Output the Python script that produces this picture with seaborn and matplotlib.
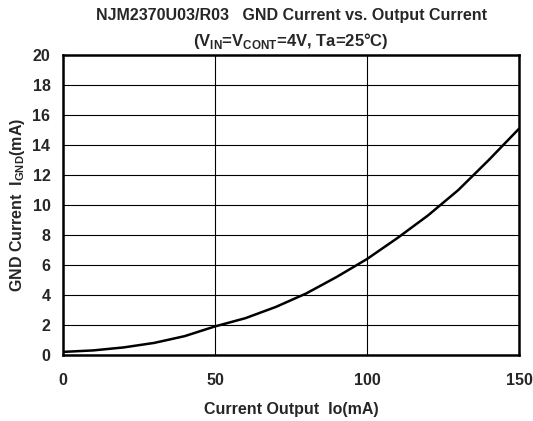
import numpy as np
import pandas as pd
import matplotlib
matplotlib.use('Agg')
import matplotlib.pyplot as plt
import seaborn as sns

# Values
output_current = [0, 10, 20, 30, 40, 50, 60, 70, 80, 90, 100, 110, 120, 130, 140, 150]
gnd_current = [0.2, 0.3, 0.5, 0.8, 1.25, 1.9, 2.45, 3.2, 4.1, 5.2, 6.4, 7.8, 9.3, 11.0, 13.0, 15.1]
x_ticks = [0, 50, 100, 150]
y_ticks = [0, 2, 4, 6, 8, 10, 12, 14, 16, 18, 20]

df = pd.DataFrame({'Io': output_current, 'Ignd': gnd_current})

sns.set_style('white')
plt.rcParams['font.family'] = ['Liberation Sans', 'DejaVu Sans']
plt.rcParams['mathtext.fontset'] = 'custom'
plt.rcParams['mathtext.rm'] = 'Liberation Sans'
plt.rcParams['mathtext.bf'] = 'Liberation Sans:bold'

fig = plt.figure(figsize=(5.33, 4.21), dpi=100)
ax = fig.add_axes([0.118, 0.157, 0.856, 0.712])

sns.lineplot(data=df, x='Io', y='Ignd', ax=ax, color='black', linewidth=1.8)

ax.set_xlim(0, 150)
ax.set_ylim(0, 20)
ax.set_xticks(x_ticks)
ax.set_yticks(y_ticks)
ax.tick_params(length=0, labelsize=11.5)
ax.tick_params(axis='x', pad=13)
ax.tick_params(axis='y', pad=9)
for lbl in ax.get_xticklabels() + ax.get_yticklabels():
    lbl.set_fontweight('bold')

ax.grid(True, color='black', linewidth=0.8)
for s in ax.spines.values():
    s.set_color('black')
    s.set_linewidth(1.8)

ax.set_xlabel('Current Output  Io(mA)', fontsize=11.5, fontweight='bold', labelpad=10)
ax.set_ylabel(r'GND Current  I$_{\mathbf{GND}}$(mA)', fontsize=11.5, fontweight='bold', labelpad=4)

fig.text(0.546, 0.962, 'NJM2370U03/R03   GND Current vs. Output Current',
         ha='center', va='center', fontsize=11.5, fontweight='bold')
fig.text(0.546, 0.903, r'(V$_{\mathbf{IN}}$=V$_{\mathbf{CONT}}$=4V, Ta=25°C)',
         ha='center', va='center', fontsize=12, fontweight='bold')

fig.savefig('out.png', dpi=100, facecolor='white')
